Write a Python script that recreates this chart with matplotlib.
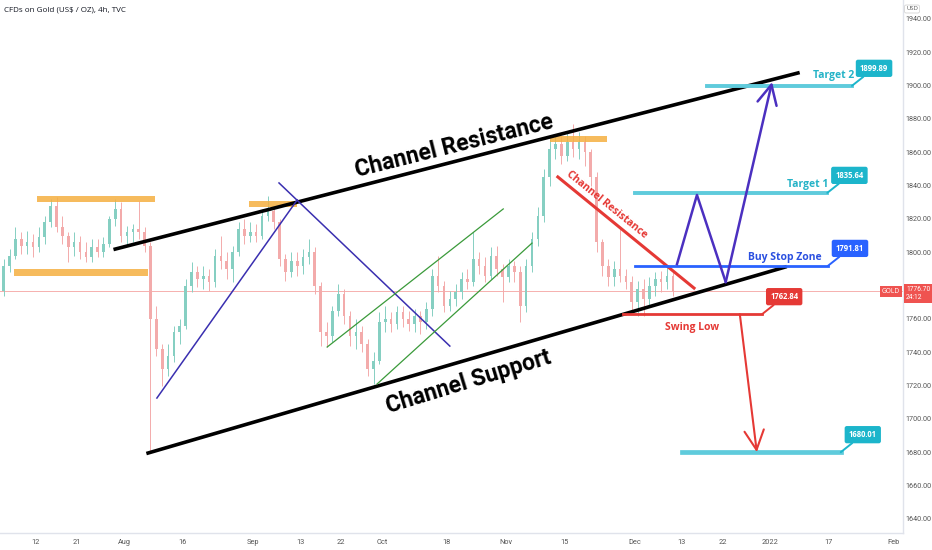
import numpy as np
import matplotlib as mpl
import matplotlib.pyplot as plt
from matplotlib.patches import Rectangle

mpl.rcParams['font.family'] = ['Open Sans', 'DejaVu Sans']

# daily candles (trading-day index from Jul 1 2021)
days = np.arange(1, 116)
opens = [1777, 1792, 1798, 1808, 1804, 1806, 1803, 1809, 1818, 1828,
         1815, 1810, 1803, 1806, 1800, 1797, 1803, 1800, 1805, 1820,
         1826, 1810, 1812, 1814, 1812, 1804, 1760, 1742, 1730, 1738,
         1752, 1756, 1780, 1788, 1784, 1786, 1782, 1798, 1795, 1790,
         1800, 1814, 1810, 1812, 1810, 1822, 1825, 1818, 1796, 1788,
         1795, 1792, 1797, 1800, 1780, 1752, 1750, 1765, 1775, 1762,
         1750, 1752, 1745, 1730, 1735, 1758, 1760, 1757, 1764, 1760,
         1757, 1762, 1758, 1766, 1786, 1780, 1768, 1772, 1776, 1784,
         1782, 1796, 1792, 1786, 1798, 1790, 1785, 1792, 1788, 1768,
         1792, 1808, 1822, 1845, 1862, 1865, 1858, 1866, 1862, 1866,
         1860, 1845, 1806, 1792, 1785, 1790, 1786, 1782, 1770, 1778,
         1772, 1780, 1784, 1782, 1786]
highs = [1796, 1802, 1815, 1812, 1813, 1811, 1815, 1822, 1832, 1833,
         1822, 1812, 1812, 1810, 1806, 1808, 1808, 1809, 1822, 1832,
         1830, 1816, 1817, 1831, 1815, 1806, 1768, 1745, 1745, 1756,
         1760, 1784, 1794, 1792, 1792, 1790, 1802, 1810, 1800, 1804,
         1818, 1820, 1818, 1817, 1826, 1834, 1828, 1820, 1799, 1800,
         1800, 1802, 1808, 1803, 1782, 1758, 1768, 1781, 1778, 1765,
         1760, 1756, 1748, 1740, 1764, 1768, 1764, 1768, 1768, 1765,
         1766, 1765, 1770, 1790, 1798, 1783, 1777, 1781, 1788, 1790,
         1812, 1800, 1797, 1803, 1804, 1793, 1796, 1795, 1792, 1796,
         1812, 1827, 1850, 1868, 1870, 1870, 1872, 1877, 1872, 1870,
         1862, 1848, 1808, 1796, 1795, 1814, 1790, 1786, 1783, 1784,
         1785, 1788, 1789, 1791, 1788]
lows = [1774, 1788, 1796, 1799, 1799, 1797, 1800, 1805, 1815, 1812,
        1805, 1794, 1798, 1796, 1794, 1794, 1797, 1797, 1803, 1816,
        1806, 1804, 1806, 1808, 1800, 1681, 1738, 1720, 1726, 1734,
        1745, 1754, 1776, 1779, 1778, 1777, 1779, 1790, 1784, 1782,
        1798, 1805, 1806, 1806, 1808, 1819, 1814, 1792, 1783, 1785,
        1786, 1787, 1793, 1775, 1744, 1743, 1746, 1762, 1757, 1744,
        1742, 1740, 1726, 1721, 1733, 1752, 1752, 1754, 1755, 1753,
        1752, 1751, 1754, 1762, 1776, 1764, 1765, 1768, 1772, 1778,
        1780, 1787, 1782, 1784, 1786, 1770, 1782, 1782, 1758, 1764,
        1788, 1804, 1818, 1840, 1856, 1853, 1855, 1857, 1856, 1852,
        1840, 1800, 1786, 1780, 1780, 1782, 1778, 1765, 1762, 1762,
        1768, 1774, 1776, 1778, 1774]
closes = [1792, 1798, 1808, 1804, 1806, 1803, 1809, 1818, 1828, 1815,
          1810, 1803, 1806, 1800, 1797, 1803, 1800, 1805, 1820, 1826,
          1810, 1812, 1814, 1812, 1804, 1760, 1742, 1730, 1738, 1752,
          1756, 1780, 1788, 1784, 1786, 1782, 1798, 1795, 1790, 1800,
          1814, 1810, 1812, 1810, 1822, 1825, 1818, 1796, 1788, 1795,
          1792, 1797, 1800, 1780, 1752, 1750, 1765, 1775, 1762, 1750,
          1752, 1745, 1730, 1735, 1758, 1760, 1757, 1764, 1760, 1757,
          1762, 1758, 1766, 1786, 1780, 1768, 1772, 1776, 1784, 1782,
          1796, 1792, 1786, 1798, 1790, 1785, 1792, 1788, 1768, 1792,
          1808, 1822, 1845, 1862, 1865, 1858, 1866, 1862, 1866, 1860,
          1845, 1806, 1792, 1785, 1790, 1786, 1782, 1770, 1778, 1772,
          1780, 1784, 1782, 1786, 1776.7]

xtick_pos = [7, 14, 22, 32, 44, 52, 59, 66, 77, 87, 97, 109, 117, 124, 132, 142, 153]
xtick_labels = ['12', '21', 'Aug', '16', 'Sep', '13', '22', 'Oct', '18', 'Nov',
                '15', 'Dec', '13', '22', '2022', '17', 'Feb']
ytick_vals = [1640, 1660, 1680, 1700, 1720, 1740, 1760, 1800, 1820, 1840,
              1860, 1880, 1900, 1920, 1940]

last_price = 1776.70
target2 = 1899.89
target1 = 1835.64
buy_stop = 1791.81
swing_low = 1762.84
target_down = 1680.01

# drawings: (x0, x1), (y0, y1) in day index / price
res_x, res_y = [20.5, 136.8], [1801.9, 1907.6]
sup_x, sup_y = [26.1, 134.6], [1679.5, 1791.1]
blue_up_x, blue_up_y = [27.6, 51.5], [1712.5, 1831.4]
blue_dn_x, blue_dn_y = [48.4, 77.5], [1841.6, 1743.7]
grn_hi_x, grn_hi_y = [56.6, 86.6], [1743.1, 1826.0]
grn_lo_x, grn_lo_y = [65.1, 91.5], [1720.9, 1805.5]
red_x, red_y = [95.9, 119.1], [1845.2, 1778.5]
zones = [(7.2, 27.3, 1830.3, 1833.5), (3.25, 26.1, 1786.0, 1790.0),
         (43.3, 51.5, 1827.0, 1831.0), (94.6, 104.3, 1866.0, 1870.0)]
t2_x = [121.3, 146.0]
t1_x = [109.0, 141.8]
bs_x = [109.0, 141.9]
sl_x = [107.0, 130.7]
td_x = [117.1, 144.1]
path_x = [116.2, 119.6, 124.5, 132.4]
path_y = [1792.9, 1834.4, 1782.1, 1902.2]
down_x = [126.9, 129.8]

fig = plt.figure(figsize=(9.32, 5.5), dpi=100)
ax = fig.add_axes([0, 17 / 550, 903 / 932, 533 / 550])
ax.set_xlim(0.87, 154.7)
ax.set_ylim(1631.5, 1951.4)

o = np.array(opens); c = np.array(closes)
cols = np.where(c >= o, '#86cfc2', '#f3abab')
ax.vlines(days + 0.5, lows, highs, colors=cols, lw=0.7, zorder=2)
ax.bar(days + 0.5, np.maximum(np.abs(c - o), 0.6), bottom=np.minimum(o, c),
       width=0.45, color=cols, zorder=2)

ax.axhline(last_price, color='#f6b0ae', lw=0.7, zorder=1)

for x0, x1, y0, y1 in zones:
    ax.add_patch(Rectangle((x0, y0), x1 - x0, y1 - y0, fc='#f5b041',
                           ec='none', alpha=0.85, zorder=3))

ax.plot(res_x, res_y, color='black', lw=2.6, zorder=4)
ax.plot(sup_x, sup_y, color='black', lw=2.6, zorder=4)
ax.plot(blue_up_x, blue_up_y, color='#3a2fb0', lw=1.1, zorder=4)
ax.plot(blue_dn_x, blue_dn_y, color='#3a2fb0', lw=1.1, zorder=4)
ax.plot(grn_hi_x, grn_hi_y, color='#3a9a3a', lw=0.9, zorder=4)
ax.plot(grn_lo_x, grn_lo_y, color='#3a9a3a', lw=0.9, zorder=4)
ax.plot(red_x, red_y, color='#e53935', lw=2.2, zorder=4)

ax.plot(t2_x, [target2] * 2, color='#5fcbdc', lw=2.8, zorder=4)
ax.plot(t1_x, [target1] * 2, color='#5fcbdc', lw=2.8, zorder=4)
ax.plot(bs_x, [buy_stop] * 2, color='#2962ff', lw=2.0, zorder=4)
ax.plot(sl_x, [swing_low] * 2, color='#e53935', lw=2.0, zorder=4)
ax.plot(td_x, [target_down] * 2, color='#5fcbdc', lw=3.4, zorder=4)

purple = '#4b30c0'
ax.plot(path_x[:-1], path_y[:-1], color=purple, lw=1.8, zorder=5)
ax.annotate('', xy=(path_x[-1], path_y[-1]), xytext=(path_x[-2], path_y[-2]),
            arrowprops=dict(arrowstyle='->,head_length=0.7,head_width=0.35',
                            color=purple, lw=1.8, mutation_scale=20,
                            shrinkA=0, shrinkB=0), zorder=5)
ax.annotate('', xy=(down_x[1], target_down), xytext=(down_x[0], swing_low),
            arrowprops=dict(arrowstyle='->,head_length=0.7,head_width=0.35',
                            color='#e53935', lw=1.5, mutation_scale=20,
                            shrinkA=0, shrinkB=0), zorder=5)

def callout(x, y, text, color):
    ax.annotate(text, xy=(x, y), xytext=(8, 13), textcoords='offset pixels',
                ha='left', va='bottom', fontsize=5.5, color='white',
                fontweight='bold', zorder=6,
                bbox=dict(boxstyle='round,pad=0.45,rounding_size=0.2', fc=color, ec=color),
                arrowprops=dict(arrowstyle='-', color=color, lw=1.4,
                                shrinkA=0, shrinkB=0))

callout(t2_x[1], target2, '1899.89', '#1cb5cb')
callout(t1_x[1], target1, '1835.64', '#1cb5cb')
callout(bs_x[1], buy_stop, '1791.81', '#2962ff')
callout(sl_x[1], swing_low, '1762.84', '#e53935')
callout(td_x[1], target_down, '1680.01', '#1cb5cb')

ax.text(142.8, 1905.8, 'Target 2', color='#25b3c7', fontsize=7.5,
        fontweight='bold', ha='center', va='center', zorder=6)
ax.text(138.5, 1840.4, 'Target 1', color='#25b3c7', fontsize=7.5,
        fontweight='bold', ha='center', va='center', zorder=6)
ax.text(134.6, 1797.1, 'Buy Stop Zone', color='#2b50e0', fontsize=7.5,
        fontweight='bold', ha='center', va='center', zorder=6)
ax.text(118.8, 1755.1, 'Swing Low', color='#e53935', fontsize=7.5,
        fontweight='bold', ha='center', va='center', zorder=6)
ax.text(104.3, 1828.4, 'Channel Resistance', color='#e53935', fontsize=7.5,
        fontweight='bold', ha='center', va='center', rotation=-39,
        rotation_mode='anchor', zorder=6)

big = ['Roboto', 'Open Sans', 'DejaVu Sans']
ax.text(78.2, 1863.8, 'Channel Resistance', fontsize=16.5, fontweight='bold',
        family=big, ha='center', va='center', rotation=14,
        rotation_mode='anchor', zorder=6)
ax.text(80.6, 1722.1, 'Channel Support', fontsize=16.5, fontweight='bold',
        family=big, ha='center', va='center', rotation=17,
        rotation_mode='anchor', zorder=6)

ax.annotate('GOLD', xy=(1, last_price), xycoords=('axes fraction', 'data'),
            xytext=(-3, 0), textcoords='offset pixels', ha='right', va='center',
            fontsize=4.8, color='white', zorder=7,
            bbox=dict(boxstyle='square,pad=0.3', fc='#ef5350', ec='none'))
ax.annotate('1776.70\n24:12', xy=(1, last_price), xycoords=('axes fraction', 'data'),
            xytext=(3, 5), textcoords='offset pixels', ha='left', va='top',
            fontsize=4.8, color='white', zorder=7, annotation_clip=False,
            linespacing=1.1, family=['Roboto', 'DejaVu Sans'],
            bbox=dict(boxstyle='square,pad=0.3', fc='#ef5350', ec='none'))

for s in ['top', 'left']:
    ax.spines[s].set_visible(False)
for s in ['right', 'bottom']:
    ax.spines[s].set_color('#e0e3eb')
    ax.spines[s].set_linewidth(1)

ax.yaxis.tick_right()
ax.set_yticks(ytick_vals)
ax.set_yticklabels(['%.2f' % v for v in ytick_vals], family=['Roboto', 'DejaVu Sans'])
ax.tick_params(axis='y', length=0, pad=1.5, labelsize=5.2, labelcolor='#555555')
ax.set_xticks(xtick_pos)
ax.set_xticklabels(xtick_labels, family=['Roboto', 'DejaVu Sans'])
ax.tick_params(axis='x', length=0, pad=4, labelsize=5.3, labelcolor='#555555')

fig.text(4 / 932, 1 - 10 / 550, 'CFDs on Gold (US$ / OZ), 4h, TVC',
         fontsize=5.8, color='#131722', va='center')
fig.text(912 / 932, 1 - 9 / 550, 'USD', fontsize=4.3, color='#555555',
         va='center', ha='center',
         bbox=dict(boxstyle='round,pad=0.25', fc='white', ec='#cccccc', lw=0.5))

fig.savefig('out.png', dpi=100)
plt.close('all')
